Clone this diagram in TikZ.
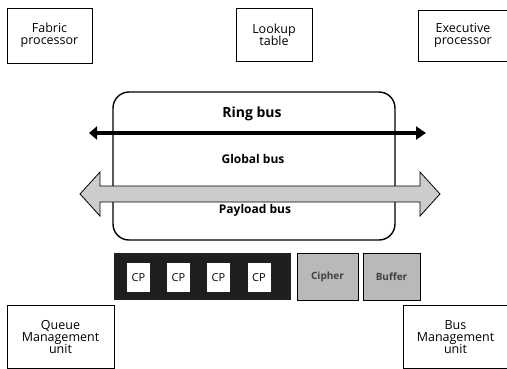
\documentclass[tikz,border=0pt]{standalone}
\usepackage{fontspec}
\setmainfont{Open Sans}
\usetikzlibrary{arrows.meta}
\begin{document}
\begin{tikzpicture}[x=1pt,y=-1pt,
  unit/.style={draw=black,line width=0.8pt,fill=white,align=center,font=\fontsize{12.5}{14}\selectfont},
  cpbox/.style={fill=white,minimum width=23pt,minimum height=29pt,inner sep=0pt,font=\fontsize{11}{13}\selectfont},
  grainy/.style={draw=black,line width=1pt,fill=gray!55,inner sep=0pt,text=black!75,font=\bfseries\fontsize{10}{12}\selectfont},
  buslabel/.style={font=\bfseries\fontsize{12}{14}\selectfont}]
\useasboundingbox (0,0) rectangle (507,368);

% outer units
\node[unit,minimum width=85pt,minimum height=55pt] (fab) at (49.5,35.5) {Fabric\\[-2pt]processor};
\node[unit,minimum width=76pt,minimum height=53pt] (lut) at (274,34.5) {Lookup\\[-2pt]table};
\node[unit,minimum width=90pt,minimum height=51pt] (exe) at (463,35.5) {Executive\\[-2pt]processor};
\node[unit,minimum width=107pt,minimum height=63pt] (qmu) at (60.5,337) {Queue\\[-2pt]Management\\[-2pt]unit};
\node[unit,minimum width=104pt,minimum height=63pt] (bmu) at (455.5,337) {Bus\\[-2pt]Management\\[-2pt]unit};

% ring bus enclosure
\node[draw=black,line width=1.4pt,rounded corners=16pt,minimum width=282pt,minimum height=148pt] (ring) at (254,166) {};
\node[buslabel,font=\bfseries\fontsize{14}{16}\selectfont] (ringlbl) at (252,114) {Ring bus};
\node[buslabel] (globlbl) at (253,159) {Global bus};
\node[buslabel] (paylbl) at (255,210) {Payload bus};

% ring bus arrow
\coordinate (rl) at (89,133);
\coordinate (rr) at (426,133);
\draw[line width=4pt,{Triangle[length=8pt,width=13pt]}-{Triangle[length=10pt,width=13pt]}] (rl) -- (rr);

% payload bus (hollow double arrow)
\coordinate (pl) at (80,194);
\coordinate (pr) at (440,194);
\draw[line width=0.8pt,fill=gray!40]
  (pl) -- ++(20,-22) -- ++(0,14) -- (420,186) -- ++(0,-14) -- (pr)
  -- (420,216) -- ++(0,-14) -- (100,202) -- ++(0,14) -- cycle;

% control processor strip
\node[fill=black!88,minimum width=177pt,minimum height=47pt,inner sep=0pt] (cpstrip) at (202.5,276.5) {};
\node[cpbox] (cp1) at (138.5,277.5) {CP};
\node[cpbox] (cp2) at (178.5,277.5) {CP};
\node[cpbox] (cp3) at (218.5,277.5) {CP};
\node[cpbox] (cp4) at (259,277.5) {CP};

% shaded side blocks
\node[grainy,minimum width=61pt,minimum height=47pt] (blk1) at (327.5,276.5) {Cipher};
\node[grainy,minimum width=57pt,minimum height=47pt] (blk2) at (391.5,276.5) {Buffer};
\end{tikzpicture}
\end{document}
